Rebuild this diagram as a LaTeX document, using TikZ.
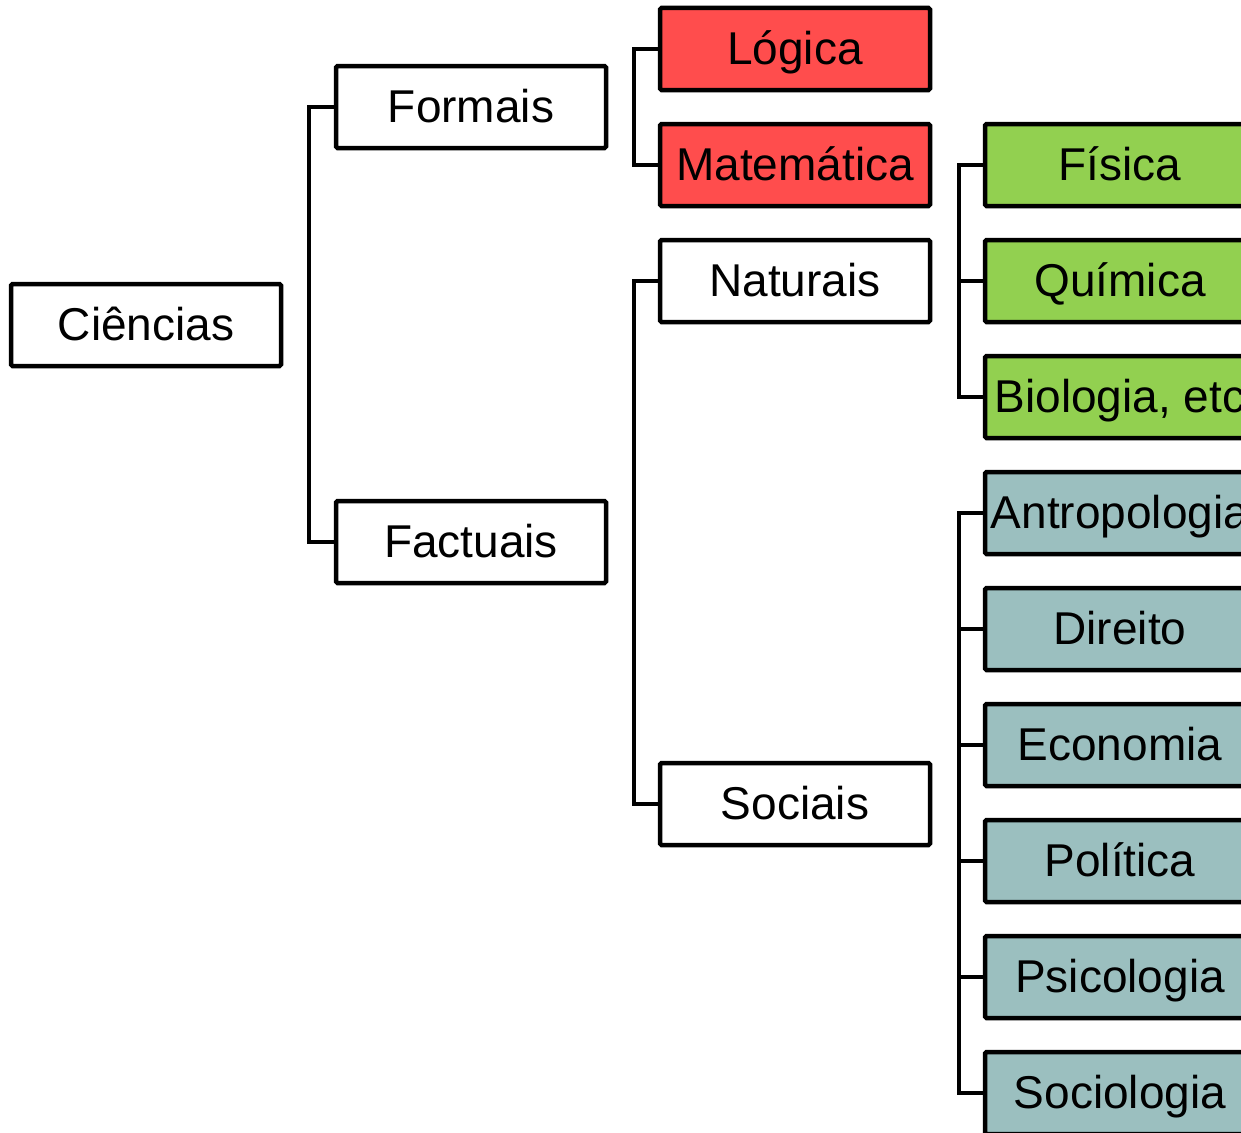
\documentclass[tikz,border=0pt]{standalone}
\usepackage{fontspec}
\setmainfont{Liberation Sans}
\definecolor{redbox}{HTML}{FF4D4D}
\definecolor{greenbox}{HTML}{92D050}
\definecolor{tealbox}{HTML}{9BBFBF}
\tikzset{
  box/.style={draw=black, line width=4.5pt, rounded corners=1.5pt, minimum width=270pt, minimum height=82pt,
    inner sep=0pt, text height=34pt, text depth=4pt, font=\fontsize{46}{55}\selectfont, text=black},
  link/.style={draw=black, line width=3.8pt, line join=miter},
}
\begin{document}
\begin{tikzpicture}[x=1pt,y=-1pt]
\useasboundingbox (0,0) rectangle (1241,1132);
\clip (0,0) rectangle (1241,1132);
\node[box, fill=white] (ciencias) at (146,325) {Ciências};
\node[box, fill=white] (formais) at (471,107) {Formais};
\node[box, fill=white] (factuais) at (471,542) {Factuais};
\node[box, fill=redbox] (logica) at (795,49) {Lógica};
\node[box, fill=redbox] (matematica) at (795,165) {Matemática};
\node[box, fill=white] (naturais) at (795,281) {Naturais};
\node[box, fill=white] (sociais) at (795,804) {Sociais};
\node[box, fill=greenbox] (fisica) at (1120,165) {Física};
\node[box, fill=greenbox] (quimica) at (1120,281) {Química};
\node[box, fill=greenbox] (biologia) at (1120,397) {Biologia, etc};
\node[box, fill=tealbox] (antropologia) at (1120,513) {Antropologia};
\node[box, fill=tealbox] (direito) at (1120,629) {Direito};
\node[box, fill=tealbox] (economia) at (1120,745) {Economia};
\node[box, fill=tealbox] (politica) at (1120,861) {Política};
\node[box, fill=tealbox] (psicologia) at (1120,977) {Psicologia};
\node[box, fill=tealbox] (sociologia) at (1120,1093) {Sociologia};
\foreach \c in {formais,factuais}
  \draw[link] (\c.west) -| ([xshift=26pt]ciencias.east);
\foreach \c in {logica,matematica}
  \draw[link] (\c.west) -| ([xshift=26pt]formais.east);
\foreach \c in {naturais,sociais}
  \draw[link] (\c.west) -| ([xshift=26pt]factuais.east);
\foreach \c in {fisica,quimica,biologia}
  \draw[link] (\c.west) -| ([xshift=27pt]naturais.east);
\foreach \c in {antropologia,direito,economia,politica,psicologia,sociologia}
  \draw[link] (\c.west) -| ([xshift=27pt]sociais.east);
\end{tikzpicture}
\end{document}
